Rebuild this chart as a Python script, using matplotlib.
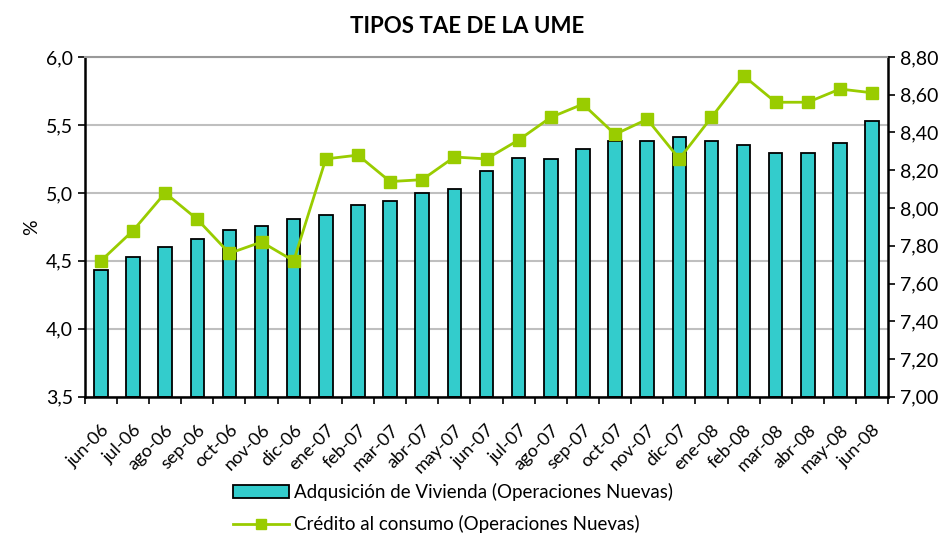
import matplotlib
matplotlib.use("Agg")
import matplotlib.pyplot as plt
from matplotlib.ticker import FixedLocator
from matplotlib.lines import Line2D
from matplotlib.patches import Patch

plt.rcParams['font.family'] = ['Lato', 'DejaVu Sans']

months = ["jun-06", "jul-06", "ago-06", "sep-06", "oct-06", "nov-06", "dic-06",
          "ene-07", "feb-07", "mar-07", "abr-07", "may-07", "jun-07", "jul-07",
          "ago-07", "sep-07", "oct-07", "nov-07", "dic-07", "ene-08", "feb-08",
          "mar-08", "abr-08", "may-08", "jun-08"]
vivienda = [4.43, 4.53, 4.60, 4.66, 4.73, 4.76, 4.81, 4.84, 4.91, 4.94, 5.00,
            5.03, 5.16, 5.26, 5.25, 5.32, 5.38, 5.38, 5.41, 5.38, 5.35, 5.29,
            5.29, 5.37, 5.53]
consumo = [7.72, 7.88, 8.08, 7.94, 7.76, 7.82, 7.72, 8.26, 8.28, 8.14, 8.15,
           8.27, 8.26, 8.36, 8.48, 8.55, 8.39, 8.47, 8.26, 8.48, 8.70, 8.56,
           8.56, 8.63, 8.61]
left_ticks = [3.5, 4.0, 4.5, 5.0, 5.5, 6.0]
right_ticks = [7.0, 7.2, 7.4, 7.6, 7.8, 8.0, 8.2, 8.4, 8.6, 8.8]

bar_color = "#33CCCC"
line_color = "#99CC00"

fig = plt.figure(figsize=(9.53, 5.37), dpi=100)
ax = fig.add_axes([0.089, 0.261, 0.843, 0.633])
x = list(range(len(months)))

ax.bar(x, [v - 3.5 for v in vivienda], bottom=3.5, width=0.42, color=bar_color,
       edgecolor="black", linewidth=1.3, zorder=2)
ax.set_ylim(3.5, 6.0)
ax.set_xlim(-0.5, len(months) - 0.5)
ax.set_yticks(left_ticks)
ax.set_yticklabels([f"{t:.1f}".replace(".", ",") for t in left_ticks], fontsize=14)
ax.yaxis.grid(True, color="#BFBFBF", linewidth=1.5, zorder=0)
ax.set_axisbelow(True)
ax.set_ylabel("%", fontsize=14)

ax.set_xticks(x)
ax.set_xticklabels(months, rotation=45, ha="right", rotation_mode="anchor", fontsize=13)
ax.tick_params(axis="x", which="major", length=0, pad=18)
ax.xaxis.set_minor_locator(FixedLocator([i - 0.5 for i in range(len(months) + 1)]))
ax.tick_params(axis="x", which="minor", length=5, width=1.2, direction="out")
ax.tick_params(axis="y", length=5, width=1.2, direction="out")

for s in ["left", "bottom", "right"]:
    ax.spines[s].set_linewidth(1.8)
    ax.spines[s].set_color("black")
ax.spines["top"].set_color("#999999")
ax.spines["top"].set_linewidth(1.5)

ax2 = ax.twinx()
ax2.plot(x, consumo, color=line_color, linewidth=2, marker="s", markersize=8, zorder=3)
ax2.set_ylim(7.0, 8.8)
ax2.set_yticks(right_ticks)
ax2.set_yticklabels([f"{t:.2f}".replace(".", ",") for t in right_ticks], fontsize=14)
ax2.tick_params(axis="y", length=5, width=1.2, direction="out")
for s in ["left", "bottom", "right", "top"]:
    ax2.spines[s].set_visible(False)

fig.text(0.49, 0.95, "TIPOS TAE DE LA UME", ha="center", va="center",
         fontsize=16, fontweight="bold")

handles = [Patch(facecolor=bar_color, edgecolor="black", linewidth=1.3,
                 label="Adqusición de Vivienda (Operaciones Nuevas)"),
           Line2D([0], [0], color=line_color, linewidth=2, marker="s", markersize=7,
                  label="Crédito al consumo (Operaciones Nuevas)")]
fig.legend(handles=handles, loc="center", bbox_to_anchor=(0.475, 0.054), ncol=1,
           frameon=False, fontsize=13.5, handlelength=3.0, handletextpad=0.25,
           labelspacing=0.75)

fig.savefig("out.png", dpi=100)
